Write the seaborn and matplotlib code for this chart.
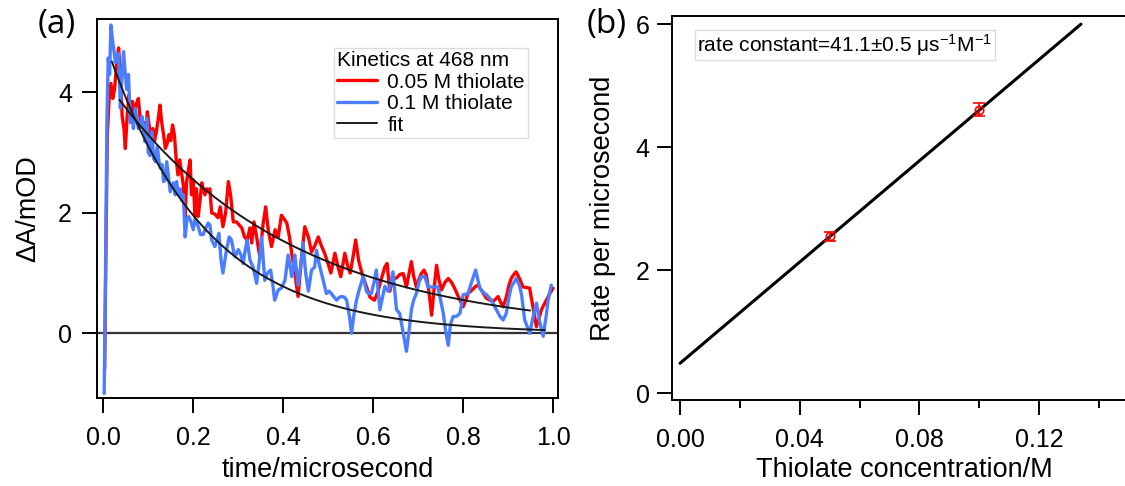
import numpy as np
import pandas as pd
import matplotlib
matplotlib.use("Agg")
import matplotlib.pyplot as plt
import seaborn as sns

# ---------------- data ----------------
t_red = [0.003, 0.006, 0.009, 0.013, 0.017, 0.021, 0.025, 0.030, 0.034, 0.038, 0.042, 0.046, 0.049,
         0.053, 0.057, 0.061, 0.065, 0.069, 0.073, 0.078, 0.082, 0.086, 0.090, 0.094, 0.098, 0.102,
         0.106, 0.110, 0.114, 0.118, 0.122, 0.126, 0.130, 0.134, 0.138, 0.142, 0.146, 0.150, 0.154,
         0.158, 0.162, 0.166, 0.170, 0.174, 0.178, 0.182, 0.185, 0.189, 0.193, 0.196, 0.200, 0.204,
         0.207, 0.211, 0.215, 0.219, 0.222, 0.226, 0.230, 0.233, 0.237, 0.241, 0.248, 0.255, 0.260,
         0.266, 0.272, 0.278, 0.283, 0.289, 0.296, 0.302, 0.308, 0.314, 0.320, 0.326, 0.330, 0.335,
         0.341, 0.348, 0.355, 0.361, 0.367, 0.374, 0.382, 0.389, 0.396, 0.402, 0.408, 0.414, 0.420,
         0.426, 0.433, 0.440, 0.448, 0.456, 0.463, 0.470, 0.478, 0.485, 0.492, 0.500, 0.506, 0.515,
         0.522, 0.528, 0.537, 0.544, 0.549, 0.556, 0.561, 0.568, 0.575, 0.585, 0.593, 0.603, 0.611,
         0.618, 0.626, 0.631, 0.637, 0.644, 0.652, 0.660, 0.667, 0.674, 0.680, 0.685, 0.690, 0.696,
         0.702, 0.707, 0.713, 0.718, 0.724, 0.730, 0.735, 0.741, 0.746, 0.752, 0.760, 0.767, 0.774,
         0.781, 0.790, 0.800, 0.806, 0.811, 0.820, 0.828, 0.833, 0.842, 0.852, 0.860, 0.867, 0.878,
         0.883, 0.889, 0.896, 0.902, 0.907, 0.913, 0.918, 0.926, 0.933, 0.941, 0.948, 0.955, 0.963,
         0.969, 0.974, 0.985, 0.992, 1.000]
a_red = [-0.6, 1.5, 3.3, 3.9, 4.15, 3.9, 4.05, 4.5, 4.74, 4.3, 3.6, 3.4, 3.07,
         3.6, 3.96, 3.7, 3.85, 3.65, 3.8, 3.9, 3.55, 3.42, 3.5, 3.35, 3.68, 3.45,
         3.25, 3.4, 3.2, 3.35, 3.55, 3.79, 3.5, 3.3, 3.07, 3.15, 3.3, 3.2, 3.46,
         3.3, 2.9, 2.63, 2.88, 2.67, 2.45, 1.94, 2.5, 2.7, 2.88, 2.3, 2.55, 1.94,
         2.4, 1.94, 2.2, 2.5, 2.4, 2.3, 2.4, 2.36, 2.4, 2.0, 1.98, 1.92, 2.1,
         1.77, 2.0, 2.52, 2.3, 1.85, 1.85, 1.80, 1.75, 1.6, 1.55, 1.75, 1.5, 1.85,
         1.6, 1.27, 1.8, 2.1, 1.7, 1.44, 1.72, 1.6, 1.96, 1.9, 1.83, 1.6, 1.27,
         1.0, 0.61, 1.2, 1.77, 1.6, 1.35, 1.45, 1.6, 1.45, 1.33, 1.15, 1.0, 1.33,
         1.1, 0.94, 1.33, 1.1, 1.0, 1.3, 1.55, 1.2, 1.0, 0.78, 0.6, 0.55, 0.7,
         0.9, 1.1, 1.16, 0.7, 0.9, 0.92, 0.98, 0.99, 0.77, 1.0, 1.19, 0.95, 0.77,
         0.9, 0.99, 1.05, 0.97, 0.7, 0.3, 0.7, 1.13, 0.9, 0.72, 0.85, 0.91, 0.85,
         0.75, 0.6, 0.44, 0.55, 0.66, 0.72, 0.78, 0.8, 0.7, 0.58, 0.55, 0.53, 0.61,
         0.52, 0.44, 0.6, 0.8, 0.91, 0.98, 1.02, 0.9, 0.77, 0.76, 0.75, 0.45, 0.11,
         0.25, 0.39, 0.55, 0.65, 0.75]

t_blue = [0.002, 0.005, 0.008, 0.011, 0.014, 0.017, 0.020, 0.023, 0.027, 0.030, 0.034, 0.038, 0.041,
          0.045, 0.049, 0.052, 0.056, 0.060, 0.064, 0.067, 0.071, 0.075, 0.078, 0.082, 0.086, 0.090,
          0.093, 0.097, 0.100, 0.104, 0.108, 0.112, 0.116, 0.120, 0.124, 0.127, 0.131, 0.134, 0.138,
          0.141, 0.145, 0.149, 0.152, 0.156, 0.160, 0.163, 0.167, 0.171, 0.175, 0.178, 0.182, 0.186,
          0.190, 0.195, 0.200, 0.204, 0.208, 0.212, 0.216, 0.222, 0.228, 0.233, 0.237, 0.241, 0.248,
          0.253, 0.257, 0.262, 0.266, 0.270, 0.274, 0.280, 0.285, 0.290, 0.293, 0.300, 0.306, 0.311,
          0.316, 0.320, 0.326, 0.333, 0.341, 0.347, 0.352, 0.359, 0.365, 0.372, 0.377, 0.381, 0.389,
          0.396, 0.404, 0.411, 0.419, 0.426, 0.433, 0.439, 0.444, 0.450, 0.456, 0.463, 0.470, 0.474,
          0.480, 0.485, 0.490, 0.496, 0.502, 0.507, 0.513, 0.519, 0.525, 0.530, 0.536, 0.541, 0.547,
          0.552, 0.557, 0.563, 0.570, 0.578, 0.585, 0.589, 0.596, 0.602, 0.607, 0.615, 0.621, 0.626,
          0.633, 0.637, 0.644, 0.652, 0.659, 0.667, 0.674, 0.680, 0.685, 0.690, 0.696, 0.702, 0.707,
          0.715, 0.722, 0.733, 0.744, 0.750, 0.756, 0.761, 0.767, 0.772, 0.778, 0.785, 0.793, 0.800,
          0.811, 0.818, 0.828, 0.837, 0.845, 0.852, 0.863, 0.874, 0.882, 0.889, 0.896, 0.902, 0.907,
          0.918, 0.925, 0.930, 0.937, 0.948, 0.955, 0.963, 0.970, 0.978, 0.985, 0.989, 0.996]
a_blue = [-1.0, 1.0, 3.5, 4.57, 4.3, 5.12, 4.9, 4.73, 4.5, 4.6, 4.65, 3.74, 4.2,
          4.68, 4.3, 4.05, 4.3, 3.5, 3.6, 3.4, 3.74, 3.55, 3.4, 3.45, 3.6, 3.35,
          3.18, 3.57, 3.0, 2.95, 3.35, 2.9, 2.85, 3.1, 2.85, 2.74, 2.8, 2.52, 2.55,
          2.85, 2.6, 2.35, 2.45, 2.5, 2.3, 2.52, 2.3, 2.4, 2.2, 2.3, 1.6, 1.9,
          1.94, 1.85, 1.72, 1.9, 1.83, 1.75, 1.64, 1.64, 1.75, 1.83, 1.8, 1.55, 1.44,
          1.55, 1.66, 1.2, 1.0, 1.2, 1.39, 1.6, 1.55, 1.35, 1.27, 1.39, 1.3, 1.16,
          1.4, 1.55, 1.22, 1.1, 0.83, 1.2, 1.6, 0.88, 1.0, 1.05, 0.8, 0.55, 0.72,
          0.75, 0.88, 1.3, 0.94, 1.3, 0.8, 1.1, 1.5, 1.0, 0.7, 1.05, 1.1, 1.38,
          1.15, 1.0, 0.85, 0.66, 0.7, 0.66, 0.6, 0.55, 0.6, 0.61, 0.6, 0.55, 0.3,
          0.0, 0.3, 0.55, 0.75, 0.94, 0.7, 0.66, 0.66, 0.85, 1.05, 0.39, 0.6, 0.78,
          0.7, 0.75, 1.02, 0.39, 0.33, 0.0, -0.3, 0.05, 0.39, 0.55, 0.66, 0.85, 0.94,
          0.94, 0.77, 0.77, 0.77, 0.55, 0.33, 0.05, -0.2, 0.15, 0.28, 0.28, 0.33, 0.64,
          0.66, 0.83, 1.05, 0.75, 0.68, 0.64, 0.55, 0.39, 0.28, 0.22, 0.33, 0.6, 0.77,
          0.91, 0.8, 0.64, 0.22, 0.0, 0.25, 0.5, 0.2, -0.05, 0.3, 0.55, 0.8]

# single-exponential fits (amplitude, rate per microsecond, fitted window)
fit_amp = [4.25, 4.93]
fit_rate = [2.55, 4.62]
fit_start = [0.036, 0.019]
fit_end = [0.949, 0.982]

# panel (b)
conc = [0.05, 0.10]
rate = [2.55, 4.61]
rate_err = [0.075, 0.11]
slope, intercept = 41.1, 0.49
conc_fit_range = [0.0, 0.134]
xticks_b = [0.00, 0.04, 0.08, 0.12]
xticklabels_b = ["0.00", "0.04", "0.08", "0.12"]

RED = "#FF0000"
BLUE = "#4A7DFF"

# ---------------- style ----------------
sns.set_theme(style="ticks")
plt.rcParams["font.family"] = ["Liberation Sans", "DejaVu Sans"]
plt.rcParams["mathtext.fontset"] = "custom"
plt.rcParams["mathtext.rm"] = "Liberation Sans"
plt.rcParams["mathtext.it"] = "Liberation Sans:italic"
plt.rcParams["axes.linewidth"] = 1.4
plt.rcParams["axes.edgecolor"] = "black"
for k in ["text.color", "axes.labelcolor", "xtick.color", "ytick.color"]:
    plt.rcParams[k] = "black"

W, H = 1125, 486
fig = plt.figure(figsize=(W / 100, H / 100), dpi=100)
axA = fig.add_axes([97 / W, 1 - 398 / H, (558 - 97) / W, (398 - 19) / H])
axB = fig.add_axes([672 / W, 1 - 400 / H, (1136 - 672) / W, (400 - 16) / H])

# ---------------- panel (a) ----------------
dr = pd.DataFrame({"t": t_red, "A": a_red})
db = pd.DataFrame({"t": t_blue, "A": a_blue})
axA.axhline(0, color="#333333", lw=1.6, zorder=1)
sns.lineplot(data=dr, x="t", y="A", ax=axA, color=RED, lw=2.4, sort=False,
             estimator=None, label="0.05 M thiolate", zorder=3)
sns.lineplot(data=db, x="t", y="A", ax=axA, color=BLUE, lw=2.4, sort=False,
             estimator=None, label="0.1 M thiolate", zorder=3)
for i in range(2):
    tt = np.linspace(fit_start[i], fit_end[i], 200)
    df = pd.DataFrame({"t": tt, "A": fit_amp[i] * np.exp(-fit_rate[i] * tt)})
    sns.lineplot(data=df, x="t", y="A", ax=axA, color="#1a1a1a", lw=1.4,
                 sort=False, estimator=None, label="fit" if i == 0 else None, zorder=4)

axA.set_xlim(-0.014, 1.011)
axA.set_ylim(-1.075, 5.22)
axA.set_xticks([0.0, 0.2, 0.4, 0.6, 0.8, 1.0])
axA.set_xticklabels(["0.0", "0.2", "0.4", "0.6", "0.8", "1.0"])
axA.set_yticks([0, 2, 4])
axA.tick_params(axis="both", direction="out", length=11, width=1.4, labelsize=18, color="black")
axA.tick_params(axis="x", pad=9)
axA.tick_params(axis="y", pad=7)
axA.set_xlabel("time/microsecond", fontsize=19.5, labelpad=5)
axA.set_ylabel("ΔA/mOD", fontsize=19.5, labelpad=12)
for s in axA.spines.values():
    s.set_visible(True)
    s.set_linewidth(1.4)

leg = axA.legend(title="Kinetics at 468 nm", loc="upper right",
                 bbox_to_anchor=(528 / W, 1 - 48 / H), bbox_transform=fig.transFigure,
                 fontsize=15, title_fontsize=15, frameon=True, fancybox=False,
                 edgecolor="#dddddd", framealpha=1, borderpad=0.15, borderaxespad=0,
                 handlelength=1.9, handletextpad=0.5, labelspacing=0.12, alignment="left")
leg.get_frame().set_linewidth(1.0)

# ---------------- panel (b) ----------------
xf = np.array(conc_fit_range)
dfit = pd.DataFrame({"c": xf, "r": intercept + slope * xf})
sns.lineplot(data=dfit, x="c", y="r", ax=axB, color="black", lw=2.2, sort=False, estimator=None)
axB.errorbar(conc, rate, yerr=rate_err, fmt="o", mfc="none", mec=RED, ecolor=RED,
             ms=6, mew=1.2, capsize=4, elinewidth=1.2, capthick=1.4, zorder=5)

axB.set_xlim(-0.00267, 0.1524)
axB.set_ylim(-0.106, 6.13)
axB.set_xticks(xticks_b)
axB.set_xticklabels(xticklabels_b)
axB.set_xticks([0.02, 0.06, 0.10, 0.14], minor=True)
axB.set_yticks([0, 2, 4, 6])
axB.tick_params(axis="both", which="major", direction="out", length=11, width=1.4,
                labelsize=18, color="black")
axB.tick_params(axis="x", which="minor", direction="out", length=5.5, width=1.4, color="black")
axB.tick_params(axis="x", pad=9)
axB.tick_params(axis="y", pad=5)
axB.set_xlabel("Thiolate concentration/M", fontsize=19.5, labelpad=4)
axB.set_ylabel("Rate per microsecond", fontsize=19.5, labelpad=14)
axB.spines["right"].set_visible(False)
for s in ["left", "bottom", "top"]:
    axB.spines[s].set_visible(True)
    axB.spines[s].set_linewidth(1.4)

fig.text(697 / W, 1 - 45 / H, r"rate constant=41.1±0.5 μs$^{-1}$M$^{-1}$", fontsize=15,
         ha="left", va="center",
         bbox=dict(boxstyle="square,pad=0.12", fc="white", ec="#dddddd", lw=1.0))

# panel labels
fig.text(57 / W, 1 - 25 / H, "(a)", fontsize=24, ha="center", va="center",
         family=["Open Sans", "DejaVu Sans"])
fig.text(607 / W, 1 - 25 / H, "(b)", fontsize=24, ha="center", va="center",
         family=["Open Sans", "DejaVu Sans"])

fig.savefig("out.png", dpi=100)
